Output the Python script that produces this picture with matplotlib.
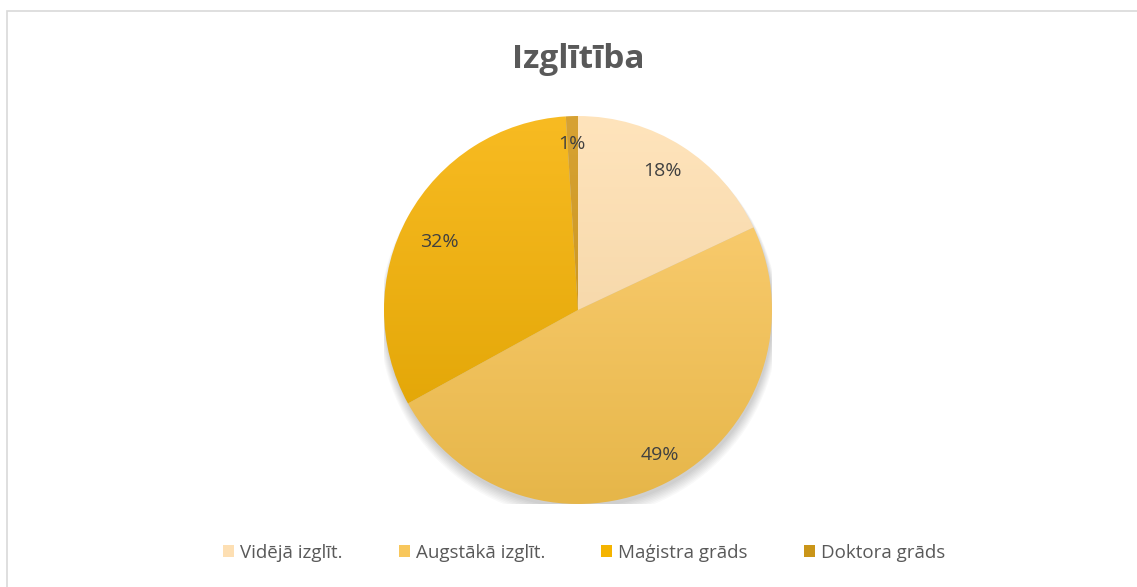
import numpy as np
import matplotlib.pyplot as plt
from matplotlib.colors import LinearSegmentedColormap
from matplotlib.patches import Rectangle, Patch

# data
labels = ['Vidējā izglīt.', 'Augstākā izglīt.', 'Maģistra grāds', 'Doktora grāds']
values = [18, 49, 32, 1]
top_colors = ['#FFE4BC', '#FFD27A', '#F8BB22', '#D7A233']
bottom_colors = ['#EFCE9B', '#E6B649', '#DDA100', '#C28E12']
legend_colors = ['#FDDFB3', '#F8C75C', '#F5B400', '#CA9518']

plt.rcParams['font.family'] = ['Open Sans', 'DejaVu Sans']

fig = plt.figure(figsize=(11.37, 5.87), dpi=100)
fig.patch.set_facecolor('white')

# chart border
fig.patches.append(Rectangle((7 / 1137, -0.05), 1.2, 1 - 10.5 / 587 + 0.05,
                             transform=fig.transFigure, fill=False,
                             edgecolor='#D9D9D9', linewidth=1.2))

R = 194
ax = fig.add_axes([(578 - R) / 1137, 1 - (310 + R) / 587, 2 * R / 1137, 2 * R / 587])

# soft shadow
for i in range(8):
    c = plt.Circle((0.005, -0.02 - i * 0.004), 1.0 + i * 0.004, color='black',
                   alpha=0.025, zorder=0, lw=0)
    ax.add_patch(c)

wedges, texts = ax.pie(values, startangle=90, counterclock=False, radius=1.0,
                       colors=legend_colors,
                       wedgeprops=dict(linewidth=0))
ax.set_xlim(-1, 1)
ax.set_ylim(-1, 1)
ax.set_aspect('equal')
ax.axis('off')

grad = np.linspace(0, 1, 256).reshape(-1, 1)
for w, tc, bc in zip(wedges, top_colors, bottom_colors):
    w.set_facecolor('none')
    cmap = LinearSegmentedColormap.from_list('g', [tc, bc])
    im = ax.imshow(grad, cmap=cmap, extent=[-1, 1, -1, 1], origin='upper',
                   aspect='auto', zorder=2)
    im.set_clip_path(w)

# percentage labels
label_pos = [(0.435, 0.715), (0.42, -0.75), (-0.715, 0.35), (-0.03, 0.855)]
for (x, y), v in zip(label_pos, values):
    ax.text(x, y, f'{v}%', ha='center', va='center', fontsize=14,
            color='#404040', zorder=5)

fig.text(578 / 1137, 1 - 60 / 587, 'Izglītība', ha='center', va='center',
         fontsize=24, fontweight='bold', color='#595959')

handles = [Patch(facecolor=c, edgecolor='none') for c in legend_colors]
fig.legend(handles, labels, loc='center', bbox_to_anchor=(584 / 1137, 1 - 553 / 587),
           ncol=4, frameon=False, fontsize=13.5, handlelength=0.6, handleheight=0.6,
           handletextpad=0.3, columnspacing=3.0, labelcolor='#595959')

fig.savefig('out.png', dpi=100, facecolor='white')
